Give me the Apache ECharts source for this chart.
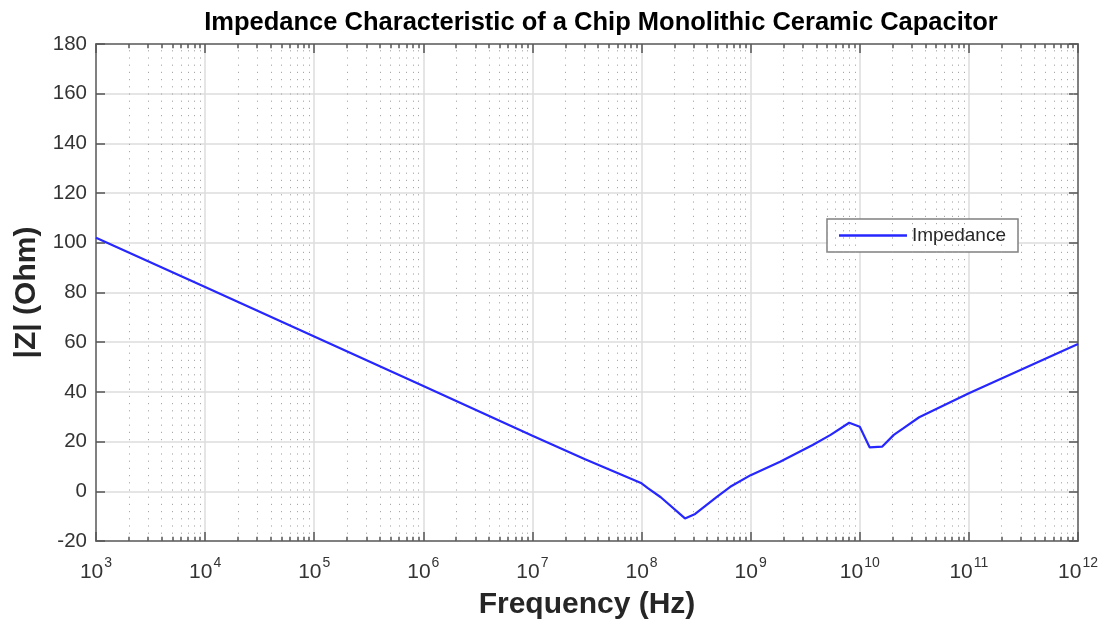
<!DOCTYPE html>
<html>
<head>
<meta charset="utf-8">
<script src="https://cdn.jsdelivr.net/npm/echarts@6/dist/echarts.min.js"></script>
<style>
  html, body { margin: 0; padding: 0; background: #fff; }
  #chart { width: 1112px; height: 625px; }
</style>
</head>
<body>
<div id="chart"></div>
<script>
// values
var freqs = [1e3, 1e4, 1e5, 1e6, 1e7, 3e7, 1e8, 1.15e8, 1.5e8, 2.5e8, 3.1e8, 4.9e8, 6.5e8,
  1e9, 1.86e9, 3.7e9, 5.4e9, 8e9, 1e10, 1.23e10, 1.6e10, 2.05e10, 2.5e10, 3.5e10, 1e11, 1e12]
var impedance = [102, 82.2, 62.3, 42.4, 22.4, 13, 3.2, 1.2, -2.4, -10.9, -9.1, -2.2, 1.8,
  6.5, 11.9, 18.6, 22.7, 27.6, 26, 17.7, 17.95, 22.7, 25.3, 29.8, 39.5, 59.3]
var yTicks = [-20, 0, 20, 40, 60, 80, 100, 120, 140, 160, 180]

var fontName = 'Liberation Sans'
var axisColor = '#808080'

// minor decade positions 2..9 x 10^d
var minorFreqs = []
for (var d = 3; d < 12; d++) {
  for (var k = 2; k <= 9; k++) {
    minorFreqs.push(k * Math.pow(10, d))
  }
}
var minorGrid = minorFreqs.map(function(f) { return { xAxis: f } })
var minorTicks = []
minorFreqs.forEach(function(f) {
  minorTicks.push([{ coord: [f, yTicks[0]] }, { coord: [f, yTicks[0] + 1.7] }])
  minorTicks.push([{ coord: [f, yTicks[yTicks.length - 1]] }, { coord: [f, yTicks[yTicks.length - 1] - 1.7] }])
})

var seriesData = freqs.map(function(f, i) { return [f, impedance[i]] })

var chart = echarts.init(document.getElementById('chart'))

var option = {
  backgroundColor: '#fff',
  animation: false,
  title: {
    text: 'Impedance Characteristic of a Chip Monolithic Ceramic Capacitor',
    left: 596,
    textAlign: 'center',
    top: 5,
    textStyle: { fontFamily: fontName, fontWeight: 'bold', fontSize: 25.5, color: '#000' }
  },
  legend: {
    data: ['Impedance'],
    left: 827,
    top: 219,
    padding: [7, 12, 7, 12],
    itemWidth: 68,
    itemHeight: 2.5,
    icon: 'rect',
    borderColor: '#808080',
    borderWidth: 1.5,
    backgroundColor: '#fff',
    textStyle: { fontFamily: fontName, fontSize: 19, color: '#262626' }
  },
  grid: {
    left: 96,
    right: 34,
    top: 44,
    bottom: 84
  },
  xAxis: [{
    type: 'log',
    logBase: 10,
    min: 1e3,
    max: 1e12,
    splitNumber: 9,
    position: 'bottom',
    name: 'Frequency (Hz)',
    nameLocation: 'middle',
    nameGap: 49,
    nameTextStyle: { fontFamily: fontName, fontWeight: 'bold', fontSize: 30, color: '#262626' },
    axisLine: { onZero: false, lineStyle: { color: axisColor, width: 2 } },
    axisTick: { inside: true, length: 9, lineStyle: { color: '#555', width: 1.5 } },
    axisLabel: {
      margin: 15,
      formatter: function(v) {
        return '{b|10}{s|' + Math.round(Math.log10(v)) + '}'
      },
      rich: {
        b: { fontFamily: fontName, fontSize: 21, color: '#333', lineHeight: 27, verticalAlign: 'bottom' },
        s: { fontFamily: fontName, fontSize: 14, color: '#333', verticalAlign: 'top', lineHeight: 14, padding: [0, 0, 0, 1] }
      }
    },
    splitLine: { show: true, lineStyle: { color: '#dcdcdc', width: 1.5 } }
  }, {
    type: 'log',
    logBase: 10,
    min: 1e3,
    max: 1e12,
    splitNumber: 9,
    position: 'top',
    axisLine: { onZero: false, lineStyle: { color: axisColor, width: 2 } },
    axisTick: { inside: true, length: 9, lineStyle: { color: '#555', width: 1.5 } },
    axisLabel: { show: false },
    splitLine: { show: false }
  }],
  yAxis: [{
    type: 'value',
    min: yTicks[0],
    max: yTicks[yTicks.length - 1],
    interval: 20,
    position: 'left',
    name: '|Z| (Ohm)',
    nameLocation: 'middle',
    nameGap: 50,
    nameTextStyle: { fontFamily: fontName, fontWeight: 'bold', fontSize: 30, color: '#262626' },
    axisLine: { show: true, onZero: false, lineStyle: { color: axisColor, width: 2 } },
    axisTick: { show: true, inside: true, length: 9, lineStyle: { color: '#555', width: 1.5 } },
    axisLabel: { margin: 9, fontFamily: fontName, fontSize: 20.5, color: '#333' },
    splitLine: { show: true, lineStyle: { color: '#dcdcdc', width: 1.5 } }
  }, {
    type: 'value',
    min: yTicks[0],
    max: yTicks[yTicks.length - 1],
    interval: 20,
    position: 'right',
    axisLine: { show: true, onZero: false, lineStyle: { color: axisColor, width: 2 } },
    axisTick: { show: true, inside: true, length: 9, lineStyle: { color: '#555', width: 1.5 } },
    axisLabel: { show: false },
    splitLine: { show: false }
  }],
  series: [{
    name: 'minorGrid',
    type: 'line',
    xAxisIndex: 0,
    yAxisIndex: 0,
    data: [],
    silent: true,
    markLine: {
      silent: true,
      symbol: ['none', 'none'],
      label: { show: false },
      lineStyle: { color: '#a8a8a8', width: 1, type: [1.2, 6] },
      emphasis: { disabled: true },
      data: minorGrid
    }
  }, {
    name: 'minorTicks',
    type: 'line',
    xAxisIndex: 0,
    yAxisIndex: 0,
    data: [],
    silent: true,
    markLine: {
      silent: true,
      symbol: ['none', 'none'],
      label: { show: false },
      lineStyle: { color: '#555', width: 1.5, type: 'solid' },
      emphasis: { disabled: true },
      data: minorTicks
    }
  }, {
    name: 'Impedance',
    type: 'line',
    xAxisIndex: 0,
    yAxisIndex: 0,
    data: seriesData,
    symbol: 'none',
    smooth: false,
    itemStyle: { color: '#2626ff' },
    lineStyle: { color: '#2626ff', width: 2.2 },
    z: 5
  }]
}

chart.setOption(option)
window.addEventListener('resize', function() { chart.resize() })
</script>
</body>
</html>
